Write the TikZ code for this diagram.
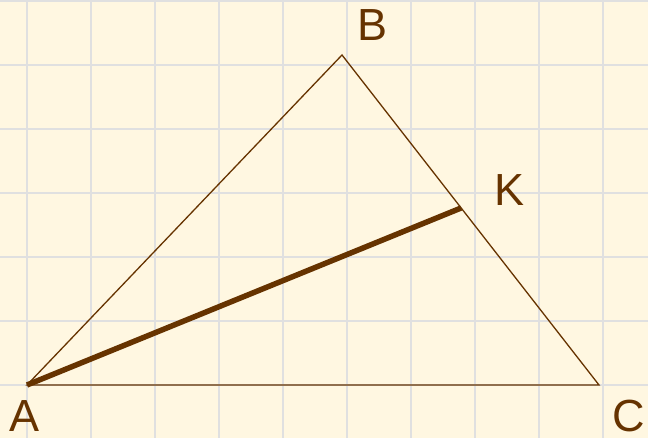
\documentclass[tikz,border=0pt]{standalone}
\usepackage{fontspec}
\setmainfont{Liberation Sans}
\usetikzlibrary{calc}
\definecolor{paper}{HTML}{FFF7E1}
\definecolor{gridgray}{HTML}{E0E0E0}
\definecolor{brown}{HTML}{663300}
\begin{document}
\begin{tikzpicture}[x=1pt,y=1pt,
  lbl/.style={text=brown,inner sep=0pt,font=\fontsize{45}{54}\selectfont},
  side/.style={brown,line width=1.3pt},
  gridline/.style={gridgray,line width=2.5pt}]
  % 背景
  \fill[paper] (0,0) rectangle (648,438);
  \useasboundingbox (0,0) rectangle (648,438);
  % 方格
  \foreach \x in {27,91,...,603} \draw[gridline] (\x,0) -- (\x,438);
  \foreach \y in {53,117,...,437} \draw[gridline] (0,\y) -- (648,\y);
  % 三角形顶点
  \coordinate (A) at (27,53);
  \coordinate (B) at (342,383);
  \coordinate (C) at (599,53);
  \coordinate (K) at ($(B)!0.4636!(C)$);
  \draw[side, line join=miter] (A) -- (B) -- (C) -- cycle;
  % 线段AK
  \draw[brown, line width=5.5pt] (A) -- (K);
  % 顶点标注
  \node[lbl] (labA) at (24.5,22) {A};
  \node[lbl] (labB) at (373,413) {B};
  \node[lbl] (labK) at (509.5,247.5) {K};
  \node[lbl] (labC) at (628.5,22) {C};
\end{tikzpicture}
\end{document}
